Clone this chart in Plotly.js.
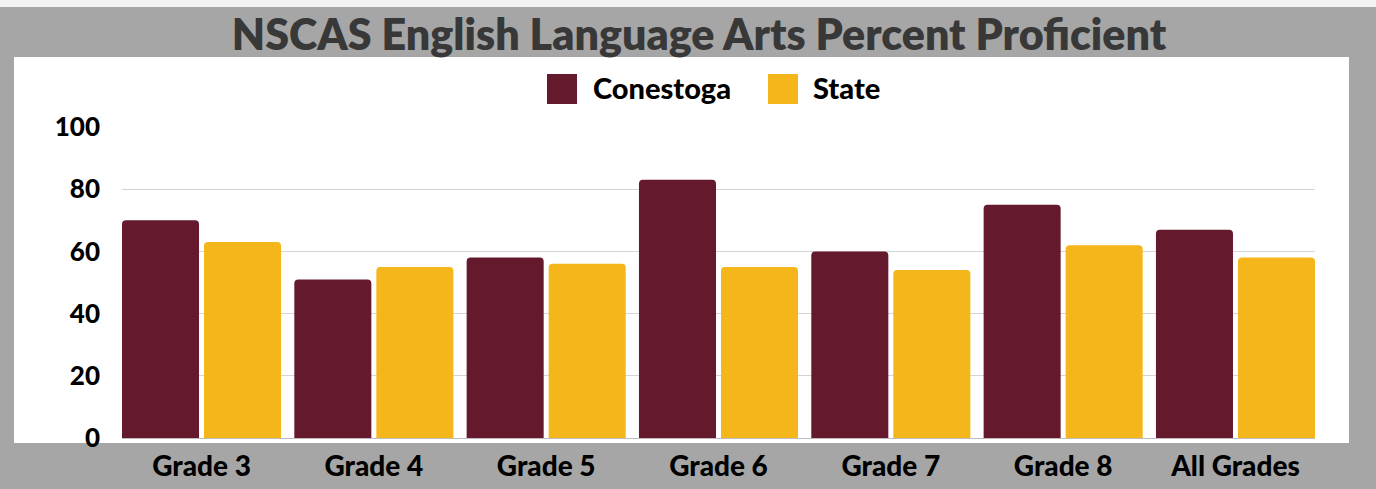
<!DOCTYPE html>
<html><head><meta charset="utf-8">
<script src="https://cdn.plot.ly/plotly-3.0.1.min.js"></script>
<style>html,body{margin:0;padding:0;background:#a6a6a6;}#c{width:1376px;height:489px;}</style>
</head><body><div id="c"></div>
<script>
const categories = ["Grade 3","Grade 4","Grade 5","Grade 6","Grade 7","Grade 8","All Grades"];
const conestoga = [70,51,58,83,60,75,67];
const state = [63,55,56,55,54,62,58];
const seriesNames = ["Conestoga","State"];
const seriesColors = ["#65192c","#f4b61a"];
const yTicks = [0,20,40,60,80,100];

const FONT = "Lato, 'Open Sans', sans-serif";
const traces = [conestoga, state].map((v,i)=>({
  type:'bar', x:categories, y:v, name:seriesNames[i],
  marker:{color:seriesColors[i], cornerradius:4}, showlegend:false, hoverinfo:'skip'
}));

// plot area geometry: left 122, right 1315, top 127, bottom 438
const L=122,R=1315,T=127,B=438,W=R-L,H=B-T;
const px=x=>(x-L)/W, py=y=>(B-y)/H;

const shapes=[
  {type:'rect',xref:'paper',yref:'paper',x0:px(0),x1:px(1376),y0:py(7),y1:py(0),fillcolor:'#f3f3f3',line:{width:0},layer:'below'},
  {type:'rect',xref:'paper',yref:'paper',x0:px(14),x1:px(1349),y0:py(443),y1:py(57),fillcolor:'#ffffff',line:{width:0},layer:'below'}
];
const annotations=[];
const legX=[[547,591],[768,811]];
seriesNames.forEach((n,i)=>{
  shapes.push({type:'rect',xref:'paper',yref:'paper',x0:px(legX[i][0]),x1:px(legX[i][0]+30),y0:py(104),y1:py(74),fillcolor:seriesColors[i],line:{width:0}});
  annotations.push({xref:'paper',yref:'paper',x:px(legX[i][1]),y:py(88),xanchor:'left',yanchor:'middle',showarrow:false,text:n,font:{family:FONT,size:29,color:'#000',weight:900}});
});

const layout={
  width:1376,height:489,
  margin:{l:L,r:1376-R,t:T,b:489-B,pad:0},
  paper_bgcolor:'#a6a6a6',plot_bgcolor:'rgba(0,0,0,0)',
  title:{text:'NSCAS English Language Arts Percent Proficient',font:{family:FONT,size:43,color:'#383838',weight:800},
    xref:'paper',x:px(699),xanchor:'center',yref:'container',y:1-35/489,yanchor:'middle'},
  barmode:'group',bargap:0.048,bargroupgap:0.061,
  xaxis:{range:[-0.4614,6.4614],tickfont:{family:FONT,size:28,color:'#000',weight:900},ticks:'',showgrid:false,showline:false,ticklabelstandoff:9},
  yaxis:{range:[0,100],tickvals:yTicks,ticktext:yTicks.map(String),tickfont:{family:FONT,size:26,color:'#000',weight:900},
    gridcolor:'#d4d4d4',gridwidth:1,zeroline:true,zerolinecolor:'#bdbdbd',zerolinewidth:1,ticks:'',ticklabelstandoff:21,showline:false},
  shapes:shapes,annotations:annotations,showlegend:false
};
Plotly.newPlot('c',traces,layout,{displayModeBar:false,staticPlot:true});
</script></body></html>
